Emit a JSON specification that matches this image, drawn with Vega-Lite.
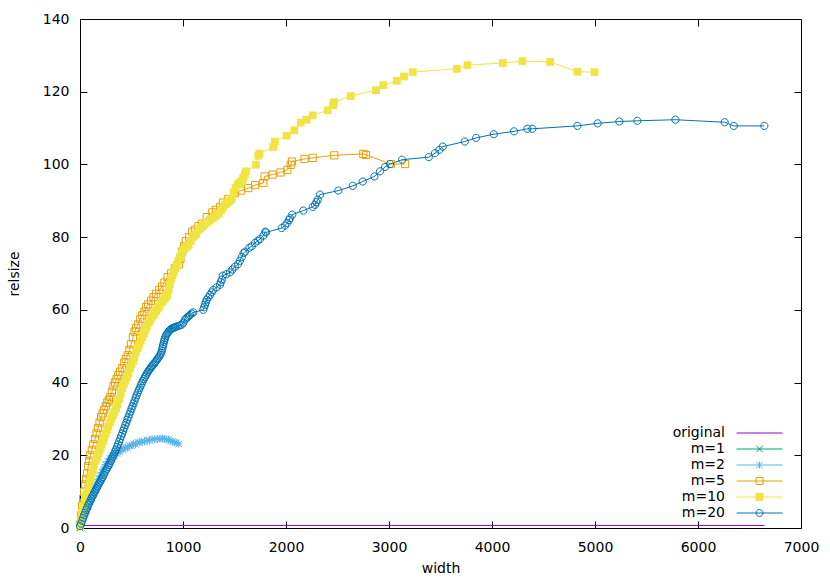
{
  "$schema": "https://vega.github.io/schema/vega-lite/v6.json",
  "width": 721,
  "height": 509,
  "autosize": {"type": "none"},
  "padding": {"left": 80, "top": 19, "right": 29, "bottom": 53},
  "background": "white",
  "config": {
    "font": "DejaVu Sans",
    "view": {"stroke": "black", "strokeWidth": 1},
    "axis": {"grid": false, "domain": false, "ticks": true, "tickSize": -7, "tickColor": "black", "tickWidth": 1,
      "labelFont": "DejaVu Sans", "labelFontSize": 14, "labelColor": "black", "labelFlush": false, "labelOverlap": false,
      "titleFont": "DejaVu Sans", "titleFontSize": 14, "titleFontWeight": "normal", "titleColor": "black"}
  },
  "data": {"values": [
    {"series":"original","width":0,"relsize":0.7},{"series":"original","width":6646,"relsize":0.7},
    {"series":"m=1","width":0,"relsize":0},{"series":"m=1","width":2,"relsize":0.4},
    {"series":"m=2","width":5,"relsize":0.6},{"series":"m=2","width":12,"relsize":1.2},{"series":"m=2","width":20,"relsize":1.9},{"series":"m=2","width":28,"relsize":2.1},{"series":"m=2","width":35,"relsize":2.8},{"series":"m=2","width":42,"relsize":3.6},{"series":"m=2","width":50,"relsize":3.9},{"series":"m=2","width":58,"relsize":4.6},{"series":"m=2","width":65,"relsize":5.0},{"series":"m=2","width":72,"relsize":5.8},{"series":"m=2","width":80,"relsize":6.1},{"series":"m=2","width":88,"relsize":6.9},{"series":"m=2","width":95,"relsize":7.2},{"series":"m=2","width":103,"relsize":7.9},{"series":"m=2","width":110,"relsize":8.1},{"series":"m=2","width":118,"relsize":8.9},{"series":"m=2","width":125,"relsize":9.2},{"series":"m=2","width":133,"relsize":9.8},{"series":"m=2","width":140,"relsize":10.5},{"series":"m=2","width":148,"relsize":10.6},{"series":"m=2","width":155,"relsize":11.4},{"series":"m=2","width":163,"relsize":11.8},{"series":"m=2","width":170,"relsize":12.4},{"series":"m=2","width":178,"relsize":12.6},{"series":"m=2","width":185,"relsize":13.4},{"series":"m=2","width":193,"relsize":13.6},{"series":"m=2","width":200,"relsize":14.3},{"series":"m=2","width":208,"relsize":14.5},{"series":"m=2","width":215,"relsize":15.3},{"series":"m=2","width":223,"relsize":15.4},{"series":"m=2","width":230,"relsize":16.2},{"series":"m=2","width":240,"relsize":16.6},{"series":"m=2","width":250,"relsize":17.4},{"series":"m=2","width":260,"relsize":17.5},{"series":"m=2","width":270,"relsize":18.3},{"series":"m=2","width":280,"relsize":18.4},{"series":"m=2","width":290,"relsize":19.1},{"series":"m=2","width":300,"relsize":19.3},{"series":"m=2","width":315,"relsize":19.9},{"series":"m=2","width":330,"relsize":19.8},{"series":"m=2","width":345,"relsize":20.6},{"series":"m=2","width":360,"relsize":20.5},{"series":"m=2","width":375,"relsize":21.2},{"series":"m=2","width":390,"relsize":21.0},{"series":"m=2","width":405,"relsize":21.7},{"series":"m=2","width":420,"relsize":21.6},{"series":"m=2","width":440,"relsize":22.2},{"series":"m=2","width":460,"relsize":22.0},{"series":"m=2","width":480,"relsize":22.7},{"series":"m=2","width":500,"relsize":22.6},{"series":"m=2","width":520,"relsize":23.2},{"series":"m=2","width":540,"relsize":23.0},{"series":"m=2","width":560,"relsize":23.6},{"series":"m=2","width":580,"relsize":23.4},{"series":"m=2","width":600,"relsize":23.9},{"series":"m=2","width":625,"relsize":23.7},{"series":"m=2","width":650,"relsize":24.2},{"series":"m=2","width":675,"relsize":24.0},{"series":"m=2","width":700,"relsize":24.5},{"series":"m=2","width":725,"relsize":24.3},{"series":"m=2","width":750,"relsize":24.6},{"series":"m=2","width":775,"relsize":24.4},{"series":"m=2","width":800,"relsize":24.7},{"series":"m=2","width":820,"relsize":24.5},{"series":"m=2","width":840,"relsize":24.3},{"series":"m=2","width":860,"relsize":24.4},{"series":"m=2","width":880,"relsize":23.9},{"series":"m=2","width":900,"relsize":23.8},{"series":"m=2","width":920,"relsize":23.4},{"series":"m=2","width":940,"relsize":23.5},{"series":"m=2","width":960,"relsize":23.1},
    {"series":"m=5","width":0,"relsize":1},{"series":"m=5","width":10,"relsize":3.5},{"series":"m=5","width":20,"relsize":6},{"series":"m=5","width":30,"relsize":8},{"series":"m=5","width":40,"relsize":10},{"series":"m=5","width":50,"relsize":12},{"series":"m=5","width":60,"relsize":13.5},{"series":"m=5","width":70,"relsize":15},{"series":"m=5","width":80,"relsize":17},{"series":"m=5","width":90,"relsize":18.5},{"series":"m=5","width":100,"relsize":20},{"series":"m=5","width":115,"relsize":21.5},{"series":"m=5","width":130,"relsize":23},{"series":"m=5","width":146,"relsize":24.5},{"series":"m=5","width":160,"relsize":26},{"series":"m=5","width":175,"relsize":27.5},{"series":"m=5","width":190,"relsize":29},{"series":"m=5","width":205,"relsize":30.5},{"series":"m=5","width":220,"relsize":31.5},{"series":"m=5","width":235,"relsize":32.5},{"series":"m=5","width":250,"relsize":33.5},{"series":"m=5","width":265,"relsize":34.5},{"series":"m=5","width":280,"relsize":35.2},{"series":"m=5","width":295,"relsize":36},{"series":"m=5","width":310,"relsize":37.5},{"series":"m=5","width":325,"relsize":39},{"series":"m=5","width":340,"relsize":40},{"series":"m=5","width":355,"relsize":41},{"series":"m=5","width":372,"relsize":42},{"series":"m=5","width":390,"relsize":43},{"series":"m=5","width":411,"relsize":44},{"series":"m=5","width":430,"relsize":45.5},{"series":"m=5","width":445,"relsize":46.5},{"series":"m=5","width":463,"relsize":47.5},{"series":"m=5","width":480,"relsize":49},{"series":"m=5","width":495,"relsize":50.5},{"series":"m=5","width":514,"relsize":52.5},{"series":"m=5","width":530,"relsize":54},{"series":"m=5","width":545,"relsize":55},{"series":"m=5","width":566,"relsize":56},{"series":"m=5","width":585,"relsize":57.5},{"series":"m=5","width":605,"relsize":58.5},{"series":"m=5","width":625,"relsize":59.5},{"series":"m=5","width":643,"relsize":60.8},{"series":"m=5","width":663,"relsize":61.5},{"series":"m=5","width":690,"relsize":62.5},{"series":"m=5","width":715,"relsize":63.5},{"series":"m=5","width":740,"relsize":64.4},{"series":"m=5","width":770,"relsize":65.5},{"series":"m=5","width":797,"relsize":66.4},{"series":"m=5","width":820,"relsize":67.5},{"series":"m=5","width":850,"relsize":69},{"series":"m=5","width":884,"relsize":70},{"series":"m=5","width":920,"relsize":71.5},{"series":"m=5","width":961,"relsize":72.5},{"series":"m=5","width":975,"relsize":74},{"series":"m=5","width":992,"relsize":76.1},{"series":"m=5","width":1010,"relsize":77.5},{"series":"m=5","width":1028,"relsize":78.9},{"series":"m=5","width":1060,"relsize":80},{"series":"m=5","width":1090,"relsize":81.5},{"series":"m=5","width":1115,"relsize":82},{"series":"m=5","width":1150,"relsize":83},{"series":"m=5","width":1182,"relsize":83.7},{"series":"m=5","width":1230,"relsize":85.5},{"series":"m=5","width":1285,"relsize":86.8},{"series":"m=5","width":1320,"relsize":87.5},{"series":"m=5","width":1362,"relsize":88.3},{"series":"m=5","width":1388,"relsize":89.5},{"series":"m=5","width":1440,"relsize":90.5},{"series":"m=5","width":1505,"relsize":92.1},{"series":"m=5","width":1560,"relsize":92.8},{"series":"m=5","width":1634,"relsize":93.5},{"series":"m=5","width":1700,"relsize":94.3},{"series":"m=5","width":1780,"relsize":94.9},{"series":"m=5","width":1793,"relsize":96.7},{"series":"m=5","width":1870,"relsize":97.2},{"series":"m=5","width":1948,"relsize":97.8},{"series":"m=5","width":2013,"relsize":98.5},{"series":"m=5","width":2046,"relsize":99.9},{"series":"m=5","width":2058,"relsize":100.8},{"series":"m=5","width":2180,"relsize":101.5},{"series":"m=5","width":2259,"relsize":101.8},{"series":"m=5","width":2469,"relsize":102.5},{"series":"m=5","width":2751,"relsize":102.9},{"series":"m=5","width":2777,"relsize":102.6},{"series":"m=5","width":3019,"relsize":100.1},{"series":"m=5","width":3156,"relsize":100.1},
    {"series":"m=10","width":0,"relsize":0.5},{"series":"m=10","width":8,"relsize":2},{"series":"m=10","width":16,"relsize":3.5},{"series":"m=10","width":24,"relsize":5},{"series":"m=10","width":32,"relsize":6},{"series":"m=10","width":40,"relsize":7},{"series":"m=10","width":50,"relsize":8},{"series":"m=10","width":60,"relsize":9},{"series":"m=10","width":70,"relsize":10},{"series":"m=10","width":81,"relsize":11.4},{"series":"m=10","width":92,"relsize":12.5},{"series":"m=10","width":103,"relsize":13.5},{"series":"m=10","width":115,"relsize":15},{"series":"m=10","width":127,"relsize":16},{"series":"m=10","width":140,"relsize":17.5},{"series":"m=10","width":152,"relsize":18.5},{"series":"m=10","width":165,"relsize":19.5},{"series":"m=10","width":178,"relsize":20.5},{"series":"m=10","width":190,"relsize":21.5},{"series":"m=10","width":201,"relsize":22.2},{"series":"m=10","width":211,"relsize":23},{"series":"m=10","width":225,"relsize":24},{"series":"m=10","width":238,"relsize":25},{"series":"m=10","width":250,"relsize":26},{"series":"m=10","width":262,"relsize":27},{"series":"m=10","width":275,"relsize":28},{"series":"m=10","width":290,"relsize":29},{"series":"m=10","width":305,"relsize":30},{"series":"m=10","width":320,"relsize":31},{"series":"m=10","width":335,"relsize":32},{"series":"m=10","width":350,"relsize":33},{"series":"m=10","width":365,"relsize":34},{"series":"m=10","width":380,"relsize":35.5},{"series":"m=10","width":395,"relsize":37},{"series":"m=10","width":410,"relsize":38.5},{"series":"m=10","width":425,"relsize":39.5},{"series":"m=10","width":440,"relsize":40.5},{"series":"m=10","width":455,"relsize":41.5},{"series":"m=10","width":470,"relsize":42.5},{"series":"m=10","width":485,"relsize":44},{"series":"m=10","width":500,"relsize":45},{"series":"m=10","width":515,"relsize":46},{"series":"m=10","width":530,"relsize":47},{"series":"m=10","width":545,"relsize":48.5},{"series":"m=10","width":560,"relsize":49.5},{"series":"m=10","width":575,"relsize":50.5},{"series":"m=10","width":590,"relsize":51.5},{"series":"m=10","width":605,"relsize":52.5},{"series":"m=10","width":620,"relsize":53.5},{"series":"m=10","width":635,"relsize":54.5},{"series":"m=10","width":650,"relsize":55.5},{"series":"m=10","width":665,"relsize":56.5},{"series":"m=10","width":680,"relsize":57},{"series":"m=10","width":694,"relsize":57.8},{"series":"m=10","width":710,"relsize":58.5},{"series":"m=10","width":725,"relsize":59.2},{"series":"m=10","width":740,"relsize":59.8},{"series":"m=10","width":756,"relsize":60.5},{"series":"m=10","width":771,"relsize":61},{"series":"m=10","width":790,"relsize":62},{"series":"m=10","width":805,"relsize":62.5},{"series":"m=10","width":820,"relsize":63},{"series":"m=10","width":835,"relsize":63.5},{"series":"m=10","width":848,"relsize":64},{"series":"m=10","width":860,"relsize":65.5},{"series":"m=10","width":872,"relsize":67},{"series":"m=10","width":885,"relsize":68.5},{"series":"m=10","width":898,"relsize":69.5},{"series":"m=10","width":912,"relsize":70.5},{"series":"m=10","width":925,"relsize":71.5},{"series":"m=10","width":940,"relsize":72.5},{"series":"m=10","width":955,"relsize":73.5},{"series":"m=10","width":970,"relsize":74.5},{"series":"m=10","width":985,"relsize":75.5},{"series":"m=10","width":1000,"relsize":76.5},{"series":"m=10","width":1020,"relsize":77},{"series":"m=10","width":1040,"relsize":77.5},{"series":"m=10","width":1054,"relsize":78},{"series":"m=10","width":1075,"relsize":79},{"series":"m=10","width":1095,"relsize":80},{"series":"m=10","width":1115,"relsize":80.5},{"series":"m=10","width":1131,"relsize":81},{"series":"m=10","width":1150,"relsize":82},{"series":"m=10","width":1170,"relsize":82.5},{"series":"m=10","width":1190,"relsize":83},{"series":"m=10","width":1208,"relsize":83.5},{"series":"m=10","width":1230,"relsize":84},{"series":"m=10","width":1255,"relsize":84.5},{"series":"m=10","width":1275,"relsize":85},{"series":"m=10","width":1300,"relsize":85.5},{"series":"m=10","width":1325,"relsize":86},{"series":"m=10","width":1347,"relsize":86.5},{"series":"m=10","width":1370,"relsize":87.5},{"series":"m=10","width":1390,"relsize":88.3},{"series":"m=10","width":1410,"relsize":89},{"series":"m=10","width":1429,"relsize":89.5},{"series":"m=10","width":1450,"relsize":90},{"series":"m=10","width":1473,"relsize":90.5},{"series":"m=10","width":1491,"relsize":92.3},{"series":"m=10","width":1510,"relsize":93.5},{"series":"m=10","width":1530,"relsize":94.5},{"series":"m=10","width":1550,"relsize":95},{"series":"m=10","width":1573,"relsize":95.5},{"series":"m=10","width":1586,"relsize":96.3},{"series":"m=10","width":1600,"relsize":97.2},{"series":"m=10","width":1612,"relsize":98.1},{"series":"m=10","width":1709,"relsize":99.9},{"series":"m=10","width":1731,"relsize":102.4},{"series":"m=10","width":1742,"relsize":103},{"series":"m=10","width":1877,"relsize":104.8},{"series":"m=10","width":1893,"relsize":106.3},{"series":"m=10","width":2007,"relsize":107.9},{"series":"m=10","width":2081,"relsize":109.4},{"series":"m=10","width":2143,"relsize":111.5},{"series":"m=10","width":2201,"relsize":112.3},{"series":"m=10","width":2259,"relsize":113.5},{"series":"m=10","width":2405,"relsize":114.9},{"series":"m=10","width":2457,"relsize":116.3},{"series":"m=10","width":2466,"relsize":117.1},{"series":"m=10","width":2628,"relsize":118.8},{"series":"m=10","width":2874,"relsize":120.4},{"series":"m=10","width":2945,"relsize":121.8},{"series":"m=10","width":3075,"relsize":123},{"series":"m=10","width":3146,"relsize":124.2},{"series":"m=10","width":3230,"relsize":125.4},{"series":"m=10","width":3658,"relsize":126.3},{"series":"m=10","width":3762,"relsize":127.3},{"series":"m=10","width":4105,"relsize":127.9},{"series":"m=10","width":4296,"relsize":128.4},{"series":"m=10","width":4564,"relsize":128.2},{"series":"m=10","width":4829,"relsize":125.5},{"series":"m=10","width":4996,"relsize":125.4},
    {"series":"m=20","width":0,"relsize":0.5},{"series":"m=20","width":10,"relsize":1.2},{"series":"m=20","width":20,"relsize":2},{"series":"m=20","width":30,"relsize":2.8},{"series":"m=20","width":40,"relsize":3.5},{"series":"m=20","width":50,"relsize":4.2},{"series":"m=20","width":60,"relsize":5},{"series":"m=20","width":70,"relsize":5.6},{"series":"m=20","width":80,"relsize":6.3},{"series":"m=20","width":90,"relsize":6.9},{"series":"m=20","width":100,"relsize":7.5},{"series":"m=20","width":110,"relsize":8.1},{"series":"m=20","width":120,"relsize":8.7},{"series":"m=20","width":130,"relsize":9.2},{"series":"m=20","width":140,"relsize":9.8},{"series":"m=20","width":150,"relsize":10.3},{"series":"m=20","width":160,"relsize":10.8},{"series":"m=20","width":170,"relsize":11.4},{"series":"m=20","width":180,"relsize":12},{"series":"m=20","width":190,"relsize":12.5},{"series":"m=20","width":200,"relsize":13},{"series":"m=20","width":210,"relsize":13.5},{"series":"m=20","width":220,"relsize":14},{"series":"m=20","width":230,"relsize":14.6},{"series":"m=20","width":240,"relsize":15.2},{"series":"m=20","width":250,"relsize":15.8},{"series":"m=20","width":260,"relsize":16.3},{"series":"m=20","width":270,"relsize":16.8},{"series":"m=20","width":280,"relsize":17.3},{"series":"m=20","width":290,"relsize":17.9},{"series":"m=20","width":300,"relsize":18.5},{"series":"m=20","width":310,"relsize":19.1},{"series":"m=20","width":320,"relsize":19.7},{"series":"m=20","width":330,"relsize":20.3},{"series":"m=20","width":340,"relsize":21},{"series":"m=20","width":350,"relsize":21.6},{"series":"m=20","width":360,"relsize":22.3},{"series":"m=20","width":370,"relsize":23},{"series":"m=20","width":380,"relsize":23.8},{"series":"m=20","width":390,"relsize":24.5},{"series":"m=20","width":400,"relsize":25.3},{"series":"m=20","width":410,"relsize":26},{"series":"m=20","width":420,"relsize":26.8},{"series":"m=20","width":430,"relsize":27.5},{"series":"m=20","width":440,"relsize":28.3},{"series":"m=20","width":450,"relsize":29},{"series":"m=20","width":460,"relsize":29.8},{"series":"m=20","width":470,"relsize":30.5},{"series":"m=20","width":480,"relsize":31.3},{"series":"m=20","width":490,"relsize":32},{"series":"m=20","width":500,"relsize":32.8},{"series":"m=20","width":510,"relsize":33.5},{"series":"m=20","width":520,"relsize":34.3},{"series":"m=20","width":530,"relsize":35},{"series":"m=20","width":540,"relsize":35.8},{"series":"m=20","width":550,"relsize":36.5},{"series":"m=20","width":560,"relsize":37.2},{"series":"m=20","width":570,"relsize":37.9},{"series":"m=20","width":580,"relsize":38.5},{"series":"m=20","width":590,"relsize":39.2},{"series":"m=20","width":600,"relsize":39.8},{"series":"m=20","width":610,"relsize":40.4},{"series":"m=20","width":620,"relsize":41},{"series":"m=20","width":630,"relsize":41.5},{"series":"m=20","width":640,"relsize":42},{"series":"m=20","width":650,"relsize":42.5},{"series":"m=20","width":660,"relsize":43},{"series":"m=20","width":670,"relsize":43.4},{"series":"m=20","width":680,"relsize":43.8},{"series":"m=20","width":690,"relsize":44.2},{"series":"m=20","width":700,"relsize":44.5},{"series":"m=20","width":710,"relsize":44.9},{"series":"m=20","width":720,"relsize":45.2},{"series":"m=20","width":730,"relsize":45.6},{"series":"m=20","width":740,"relsize":46},{"series":"m=20","width":750,"relsize":46.4},{"series":"m=20","width":760,"relsize":46.8},{"series":"m=20","width":770,"relsize":47.2},{"series":"m=20","width":780,"relsize":47.7},{"series":"m=20","width":788,"relsize":48.2},{"series":"m=20","width":795,"relsize":48.8},{"series":"m=20","width":800,"relsize":49.4},{"series":"m=20","width":805,"relsize":50},{"series":"m=20","width":810,"relsize":50.6},{"series":"m=20","width":815,"relsize":51.2},{"series":"m=20","width":820,"relsize":51.7},{"series":"m=20","width":825,"relsize":52.2},{"series":"m=20","width":832,"relsize":52.7},{"series":"m=20","width":840,"relsize":53.2},{"series":"m=20","width":850,"relsize":53.6},{"series":"m=20","width":860,"relsize":54},{"series":"m=20","width":870,"relsize":54.3},{"series":"m=20","width":880,"relsize":54.6},{"series":"m=20","width":890,"relsize":54.8},{"series":"m=20","width":900,"relsize":55},{"series":"m=20","width":911,"relsize":55.1},{"series":"m=20","width":922,"relsize":55.2},{"series":"m=20","width":935,"relsize":55.4},{"series":"m=20","width":950,"relsize":55.5},{"series":"m=20","width":968,"relsize":55.7},{"series":"m=20","width":987,"relsize":55.9},{"series":"m=20","width":1005,"relsize":56.5},{"series":"m=20","width":1019,"relsize":57.3},{"series":"m=20","width":1032,"relsize":57.7},{"series":"m=20","width":1045,"relsize":58},{"series":"m=20","width":1057,"relsize":58.3},{"series":"m=20","width":1068,"relsize":58.6},{"series":"m=20","width":1084,"relsize":59},{"series":"m=20","width":1100,"relsize":59.3},{"series":"m=20","width":1197,"relsize":60},{"series":"m=20","width":1205,"relsize":60.7},{"series":"m=20","width":1214,"relsize":61.4},{"series":"m=20","width":1222,"relsize":62.1},{"series":"m=20","width":1230,"relsize":62.8},{"series":"m=20","width":1246,"relsize":63.5},{"series":"m=20","width":1262,"relsize":64.1},{"series":"m=20","width":1278,"relsize":64.8},{"series":"m=20","width":1294,"relsize":65.5},{"series":"m=20","width":1327,"relsize":66.2},{"series":"m=20","width":1359,"relsize":66.9},{"series":"m=20","width":1367,"relsize":67.6},{"series":"m=20","width":1376,"relsize":68.3},{"series":"m=20","width":1386,"relsize":69.4},{"series":"m=20","width":1420,"relsize":69.8},{"series":"m=20","width":1456,"relsize":70.3},{"series":"m=20","width":1480,"relsize":71.1},{"series":"m=20","width":1505,"relsize":71.9},{"series":"m=20","width":1535,"relsize":72.6},{"series":"m=20","width":1552,"relsize":73.5},{"series":"m=20","width":1570,"relsize":74.5},{"series":"m=20","width":1588,"relsize":75.6},{"series":"m=20","width":1602,"relsize":76},{"series":"m=20","width":1645,"relsize":77.1},{"series":"m=20","width":1667,"relsize":77.5},{"series":"m=20","width":1699,"relsize":78.4},{"series":"m=20","width":1725,"relsize":79},{"series":"m=20","width":1748,"relsize":79.5},{"series":"m=20","width":1780,"relsize":80.4},{"series":"m=20","width":1799,"relsize":81.5},{"series":"m=20","width":1806,"relsize":81.3},{"series":"m=20","width":1958,"relsize":82.5},{"series":"m=20","width":1990,"relsize":83.2},{"series":"m=20","width":2013,"relsize":83.9},{"series":"m=20","width":2030,"relsize":84.7},{"series":"m=20","width":2039,"relsize":85.2},{"series":"m=20","width":2061,"relsize":86.2},{"series":"m=20","width":2168,"relsize":87.3},{"series":"m=20","width":2259,"relsize":88.3},{"series":"m=20","width":2282,"relsize":88.9},{"series":"m=20","width":2295,"relsize":89.6},{"series":"m=20","width":2308,"relsize":90.3},{"series":"m=20","width":2330,"relsize":91.7},{"series":"m=20","width":2508,"relsize":92.8},{"series":"m=20","width":2648,"relsize":94.1},{"series":"m=20","width":2745,"relsize":95.3},{"series":"m=20","width":2858,"relsize":96.7},{"series":"m=20","width":2913,"relsize":98.1},{"series":"m=20","width":2961,"relsize":99.3},{"series":"m=20","width":3010,"relsize":100.1},{"series":"m=20","width":3127,"relsize":101.3},{"series":"m=20","width":3386,"relsize":102},{"series":"m=20","width":3447,"relsize":103.1},{"series":"m=20","width":3489,"relsize":104},{"series":"m=20","width":3522,"relsize":104.9},{"series":"m=20","width":3736,"relsize":106.3},{"series":"m=20","width":3846,"relsize":107.3},{"series":"m=20","width":4017,"relsize":108.3},{"series":"m=20","width":4214,"relsize":109.1},{"series":"m=20","width":4343,"relsize":109.8},{"series":"m=20","width":4392,"relsize":109.8},{"series":"m=20","width":4829,"relsize":110.6},{"series":"m=20","width":5026,"relsize":111.3},{"series":"m=20","width":5236,"relsize":111.8},{"series":"m=20","width":5411,"relsize":112},{"series":"m=20","width":5781,"relsize":112.3},{"series":"m=20","width":6259,"relsize":111.6},{"series":"m=20","width":6347,"relsize":110.6},{"series":"m=20","width":6644,"relsize":110.6}
  ]},
  "resolve": {"axis": {"x": "independent", "y": "independent"}},
  "layer": [
    {
      "mark": {"type": "line", "strokeWidth": 1, "clip": false},
      "encoding": {
        "x": {"field": "width", "type": "quantitative", "scale": {"domain": [0, 7000], "nice": false, "zero": false},
          "axis": {"orient": "bottom", "values": [0,1000,2000,3000,4000,5000,6000,7000], "format": "d", "labelPadding": 19, "title": "width", "titlePadding": 7}},
        "y": {"field": "relsize", "type": "quantitative", "scale": {"domain": [0, 140], "nice": false, "zero": false},
          "axis": {"orient": "left", "values": [0,20,40,60,80,100,120,140], "format": "d", "labelPadding": 18, "title": "relsize", "titlePadding": 21}},
        "color": {"field": "series", "type": "nominal",
          "scale": {"domain": ["original","m=1","m=2","m=5","m=10","m=20"], "range": ["#9400d3","#009e73","#56b4e9","#e69f00","#f0e442","#0072b2"]},
          "legend": {"title": null, "orient": "none", "legendX": 672.5, "legendY": 407, "padding": 0,
            "symbolSize": 49, "symbolStrokeWidth": 1, "symbolOffset": 0, "labelOffset": -41.5, "labelAlign": "right",
            "labelFontSize": 14, "labelFont": "DejaVu Sans", "labelColor": "black", "rowPadding": 2, "labelLimit": 200,
            "encode": {"symbols": {"update": {
              "shape": {"signal": "datum.value=='original'?'M-6.57,0H6.57':datum.value=='m=1'?'M-6.57,0H6.57M-0.9,-0.9L0.9,0.9M-0.9,0.9L0.9,-0.9':datum.value=='m=2'?'M-6.57,0H6.57M-0.9,-0.9L0.9,0.9M-0.9,0.9L0.9,-0.9M0,-1V1':datum.value=='m=20'?'M-6.57,0H6.57M-1,0A1,1 0 1,0 1,0A1,1 0 1,0 -1,0Z':'M-6.57,0H6.57M-1,-1H1V1H-1Z'"},
              "fill": {"signal": "datum.value=='m=10'?'#f0e442':'transparent'"},
              "stroke": {"scale": "color", "field": "value"}
            }}}
          }},
        "order": {"field": "width", "type": "quantitative"}
      }
    },
    {
      "transform": [{"filter": "datum.series == 'm=1'"}],
      "mark": {"type": "point", "filled": false, "size": 52, "strokeWidth": 1, "opacity": 1, "clip": false, "color": "#009e73",
        "shape": "M-0.9,-0.9L0.9,0.9M-0.9,0.9L0.9,-0.9"},
      "encoding": {
        "x": {"field": "width", "type": "quantitative", "axis": {"orient": "top", "values": [0,1000,2000,3000,4000,5000,6000,7000], "labels": false, "title": null}},
        "y": {"field": "relsize", "type": "quantitative", "axis": {"orient": "right", "values": [0,20,40,60,80,100,120,140], "labels": false, "title": null}}
      }
    },
    {
      "transform": [{"filter": "datum.series == 'm=2'"}],
      "mark": {"type": "point", "filled": false, "size": 52, "strokeWidth": 1, "opacity": 1, "clip": false, "color": "#56b4e9",
        "shape": "M-0.9,-0.9L0.9,0.9M-0.9,0.9L0.9,-0.9M0,-1V1M-1,0H1"},
      "encoding": {
        "x": {"field": "width", "type": "quantitative", "axis": null},
        "y": {"field": "relsize", "type": "quantitative", "axis": null}
      }
    },
    {
      "transform": [{"filter": "datum.series == 'm=5'"}],
      "mark": {"type": "point", "filled": false, "size": 52, "strokeWidth": 1, "opacity": 1, "clip": false, "color": "#e69f00",
        "shape": "M-1,-1H1V1H-1Z"},
      "encoding": {
        "x": {"field": "width", "type": "quantitative", "axis": null},
        "y": {"field": "relsize", "type": "quantitative", "axis": null}
      }
    },
    {
      "transform": [{"filter": "datum.series == 'm=10'"}],
      "mark": {"type": "point", "filled": true, "size": 60, "opacity": 1, "clip": false, "color": "#f0e442",
        "shape": "M-1,-1H1V1H-1Z"},
      "encoding": {
        "x": {"field": "width", "type": "quantitative", "axis": null},
        "y": {"field": "relsize", "type": "quantitative", "axis": null}
      }
    },
    {
      "transform": [{"filter": "datum.series == 'm=20'"}],
      "mark": {"type": "point", "filled": false, "size": 52, "strokeWidth": 1, "opacity": 1, "clip": false, "color": "#0072b2",
        "shape": "M-1,0A1,1 0 1,0 1,0A1,1 0 1,0 -1,0Z"},
      "encoding": {
        "x": {"field": "width", "type": "quantitative", "axis": null},
        "y": {"field": "relsize", "type": "quantitative", "axis": null}
      }
    }
  ]
}
